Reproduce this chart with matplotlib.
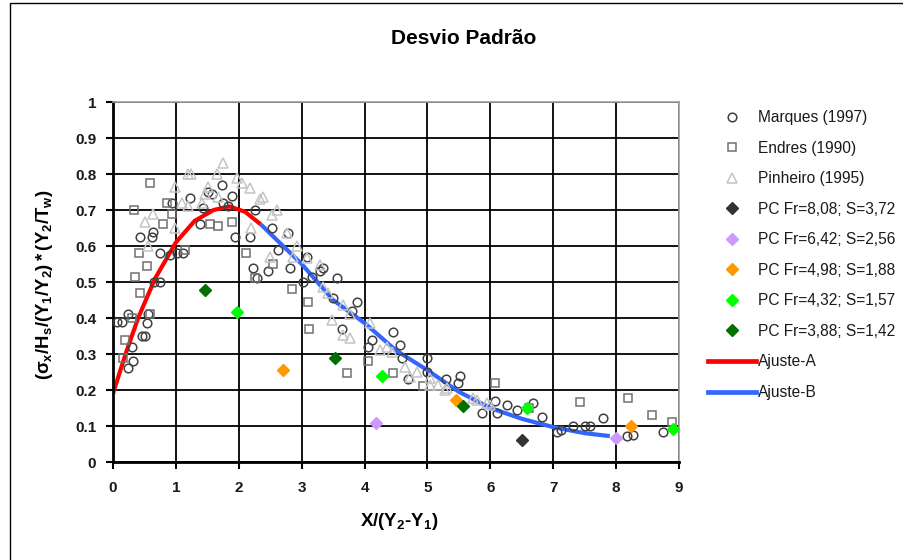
import matplotlib
matplotlib.use("Agg")
import matplotlib.pyplot as plt
from matplotlib.patches import Rectangle
from matplotlib.lines import Line2D

plt.rcParams['font.family'] = ['Liberation Sans', 'DejaVu Sans']
plt.rcParams['mathtext.fontset'] = 'custom'
plt.rcParams['mathtext.rm'] = 'Liberation Sans:bold'
plt.rcParams['mathtext.it'] = 'Liberation Sans:bold'
plt.rcParams['mathtext.bf'] = 'Liberation Sans:bold'
plt.rcParams['mathtext.default'] = 'bf'

# ---------------- data ----------------
marques_x = [0.07, 0.14, 0.24, 0.30, 0.24, 0.32, 0.46, 0.51, 0.54, 0.56, 0.65, 0.75, 0.43, 0.62,
             0.64, 0.75, 0.90, 1.11, 1.02, 0.94, 1.22, 1.38, 1.43, 1.51, 1.57, 1.73, 1.75, 1.83,
             1.90, 1.94, 2.18, 2.26, 2.23, 2.29, 2.47, 2.53, 2.62, 2.78, 2.81, 3.02, 3.08, 3.16,
             3.29, 3.34, 3.56, 3.50, 3.88, 3.80, 3.64, 4.12, 4.05, 4.45, 4.56, 4.60, 5.00, 4.69,
             4.99, 5.30, 5.52, 5.48, 5.87, 6.07, 6.10, 6.26, 6.42, 6.68, 6.82, 7.06, 7.12, 7.31,
             7.50, 7.58, 7.79, 8.17, 8.27, 8.74]
marques_y = [0.39, 0.39, 0.41, 0.32, 0.26, 0.28, 0.35, 0.35, 0.385, 0.41, 0.50, 0.50, 0.625, 0.625,
             0.64, 0.58, 0.575, 0.58, 0.58, 0.72, 0.733, 0.66, 0.705, 0.75, 0.745, 0.77, 0.72, 0.71,
             0.74, 0.625, 0.625, 0.70, 0.54, 0.51, 0.53, 0.65, 0.59, 0.635, 0.54, 0.50, 0.57, 0.515,
             0.53, 0.54, 0.51, 0.455, 0.445, 0.42, 0.37, 0.34, 0.32, 0.36, 0.325, 0.29, 0.29, 0.23,
             0.25, 0.23, 0.24, 0.22, 0.135, 0.17, 0.135, 0.158, 0.145, 0.165, 0.125, 0.083, 0.088, 0.10,
             0.10, 0.10, 0.122, 0.072, 0.075, 0.083]

endres_x = [0.16, 0.19, 0.30, 0.43, 0.35, 0.54, 0.41, 0.59, 0.34, 0.59, 0.80, 0.86, 0.94, 1.14,
            1.54, 1.67, 1.89, 2.11, 2.26, 2.55, 2.84, 3.10, 3.12, 3.72, 4.05, 4.45, 4.93, 6.07,
            6.62, 7.42, 8.19, 8.57, 8.89]
endres_y = [0.29, 0.34, 0.40, 0.47, 0.515, 0.545, 0.58, 0.41, 0.70, 0.775, 0.66, 0.72, 0.69, 0.59,
            0.66, 0.655, 0.667, 0.58, 0.51, 0.55, 0.48, 0.445, 0.37, 0.248, 0.28, 0.247, 0.21, 0.22,
            0.15, 0.167, 0.178, 0.13, 0.11]

pinheiro_x = [0.51, 0.64, 0.56, 0.99, 0.99, 1.10, 1.19, 1.24, 1.19, 1.41, 1.46, 1.51, 1.65, 1.67,
              1.75, 1.97, 2.05, 2.18, 2.20, 2.39, 2.34, 2.53, 2.61, 2.50, 2.77, 2.92, 2.86, 3.08,
              3.29, 3.34, 3.42, 3.66, 3.48, 3.66, 3.77, 3.77, 4.09, 4.24, 4.35, 4.43, 4.64, 4.72,
              4.83, 5.04, 5.04, 5.17, 5.31, 5.28, 5.72, 5.79, 5.95, 5.99]
pinheiro_y = [0.667, 0.69, 0.60, 0.765, 0.65, 0.72, 0.80, 0.80, 0.71, 0.72, 0.745, 0.765, 0.80, 0.736,
              0.83, 0.79, 0.775, 0.76, 0.65, 0.737, 0.73, 0.686, 0.70, 0.57, 0.636, 0.60, 0.57, 0.566,
              0.547, 0.486, 0.47, 0.436, 0.394, 0.353, 0.344, 0.41, 0.386, 0.31, 0.32, 0.305, 0.265, 0.235,
              0.25, 0.232, 0.213, 0.213, 0.205, 0.20, 0.178, 0.172, 0.163, 0.158]

pc808_x = [6.50]
pc808_y = [0.061]
pc642_x = [4.18, 8.00]
pc642_y = [0.108, 0.067]
pc498_x = [2.70, 5.45, 8.24]
pc498_y = [0.255, 0.172, 0.100]
pc432_x = [1.97, 4.28, 6.58, 8.90]
pc432_y = [0.417, 0.240, 0.150, 0.092]
pc388_x = [1.46, 3.53, 5.56]
pc388_y = [0.478, 0.290, 0.155]

ajusteA_x = [0.0, 0.2, 0.4, 0.67, 1.0, 1.3, 1.6, 1.85, 2.1, 2.35]
ajusteA_y = [0.19, 0.30, 0.40, 0.51, 0.61, 0.67, 0.70, 0.71, 0.695, 0.66]
ajusteB_x = [2.35, 3.0, 3.5, 4.0, 4.5, 5.0, 5.5, 6.0, 6.5, 7.0, 7.5, 7.9]
ajusteB_y = [0.66, 0.55, 0.45, 0.386, 0.31, 0.255, 0.195, 0.15, 0.12, 0.097, 0.08, 0.072]

labels = ['Marques (1997)', 'Endres (1990)', 'Pinheiro (1995)',
          'PC Fr=8,08; S=3,72', 'PC Fr=6,42; S=2,56', 'PC Fr=4,98; S=1,88',
          'PC Fr=4,32; S=1,57', 'PC Fr=3,88; S=1,42', 'Ajuste-A', 'Ajuste-B']

xticks = [0, 1, 2, 3, 4, 5, 6, 7, 8, 9]
yticks = [0, 0.1, 0.2, 0.3, 0.4, 0.5, 0.6, 0.7, 0.8, 0.9, 1]
ytick_labels = ['0', '0.1', '0.2', '0.3', '0.4', '0.5', '0.6', '0.7', '0.8', '0.9', '1']

# ---------------- figure ----------------
W, H = 904, 560
fig = plt.figure(figsize=(W / 100, H / 100), dpi=100)
fig.patches.append(Rectangle((10 / W, -0.05), 1.1, 557 / H + 0.05,
                             transform=fig.transFigure, fill=False, edgecolor='#000000',
                             linewidth=1.0, zorder=0))

ax = fig.add_axes([113 / W, 1 - 462 / H, (679 - 113) / W, (462 - 102) / H])
ax.set_xlim(0, 9)
ax.set_ylim(0, 1)

ms = 6.2
ax.plot(ajusteA_x, ajusteA_y, color='#ff0000', lw=3.0, zorder=2, solid_capstyle='butt')
ax.plot(ajusteB_x, ajusteB_y, color='#3366ff', lw=3.0, zorder=2, solid_capstyle='butt')

h_m, = ax.plot(marques_x, marques_y, ls='none', marker='o', ms=ms, mfc='none', mec='#404040', mew=1.1, zorder=3)
h_e, = ax.plot(endres_x, endres_y, ls='none', marker='s', ms=ms, mfc='none', mec='#707070', mew=1.1, zorder=3)
h_p, = ax.plot(pinheiro_x, pinheiro_y, ls='none', marker='^', ms=ms + 1, mfc='none', mec='#c4c4c4', mew=1.1, zorder=3)
dms = 6
h1, = ax.plot(pc808_x, pc808_y, ls='none', marker='D', ms=dms, color='#333333', zorder=4)
h2, = ax.plot(pc642_x, pc642_y, ls='none', marker='D', ms=dms, color='#cc99ff', zorder=4)
h3, = ax.plot(pc498_x, pc498_y, ls='none', marker='D', ms=dms, color='#ff9900', zorder=4)
h4, = ax.plot(pc432_x, pc432_y, ls='none', marker='D', ms=dms, color='#00ff00', zorder=4)
h5, = ax.plot(pc388_x, pc388_y, ls='none', marker='D', ms=dms, color='#007000', zorder=4)
hA = Line2D([], [], color='#ff0000', lw=3.4)
hB = Line2D([], [], color='#3366ff', lw=3.4)

ax.set_xticks(xticks)
ax.set_yticks(yticks)
ax.set_yticklabels(ytick_labels)
ax.grid(True, color='#000000', lw=1.3)
ax.set_axisbelow(True)
ax.tick_params(direction='out', length=5, width=1.5, labelsize=11, colors='#000000')
ax.tick_params(axis='x', pad=9)
ax.tick_params(axis='y', pad=7)
for lab in ax.get_xticklabels() + ax.get_yticklabels():
    lab.set_fontweight('bold')
    lab.set_color('#1a1a1a')
ax.spines['left'].set_linewidth(2.0)
ax.spines['bottom'].set_linewidth(2.0)
ax.spines['top'].set_color('#a0a0a0')
ax.spines['right'].set_color('#a0a0a0')
ax.spines['top'].set_linewidth(1.2)
ax.spines['right'].set_linewidth(1.2)

fig.text(464 / W, 1 - 38 / H, 'Desvio Padrão', ha='center', va='center', fontsize=15, fontweight='bold')
fig.text(399 / W, 1 - 522 / H, r'X/(Y$_2$-Y$_1$)', ha='center', va='center', fontsize=13.5, fontweight='bold')
fig.text(45 / W, 1 - 285 / H, r'$(\sigma_x/H_s/(Y_1/Y_2)*(Y_2/T_w)$', ha='center', va='center',
         rotation=90, fontsize=13.3)

leg = fig.legend([h_m, h_e, h_p, h1, h2, h3, h4, h5, hA, hB], labels,
                 loc='upper left', bbox_to_anchor=(708 / W, 1 - 110 / H), frameon=False,
                 fontsize=11.2, labelspacing=1.0, handlelength=3.1, handletextpad=0.12,
                 borderaxespad=0, borderpad=0, numpoints=1)
for t in leg.get_texts():
    t.set_color('#1a1a1a')

fig.savefig('out.png', dpi=100)
